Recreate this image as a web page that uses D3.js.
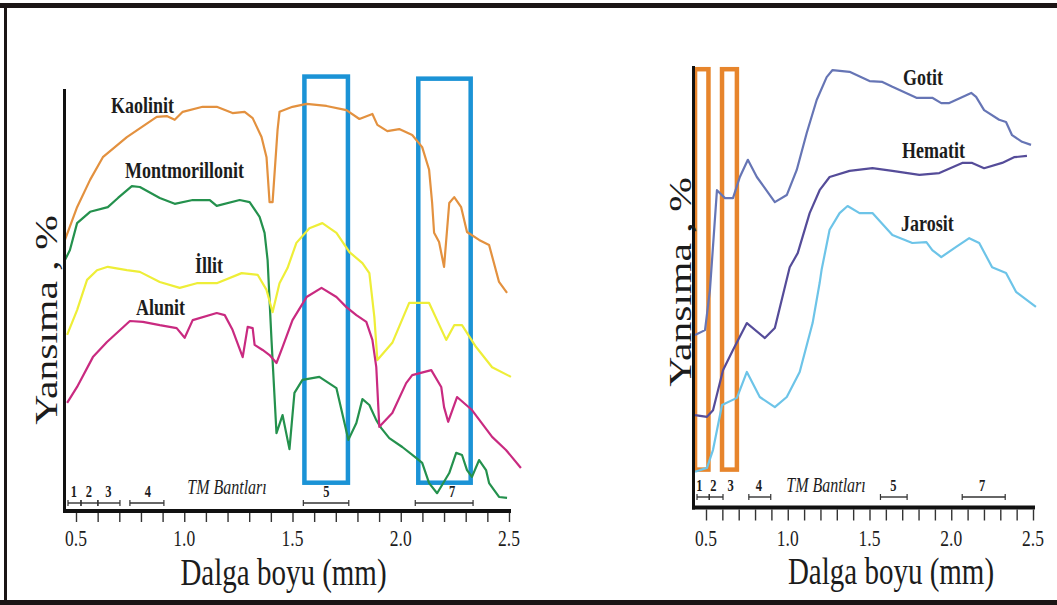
<!DOCTYPE html>
<html lang="tr">
<head>
<meta charset="UTF-8">
<title>Yansıma eğrileri</title>
<script src="https://cdnjs.cloudflare.com/ajax/libs/d3/7.8.5/d3.min.js"></script>
<style>
    html, body {
        margin: 0;
        background: #fff;
    }
    svg text {
        font-family: "Liberation Serif", "Times New Roman", serif;
        fill: #1c1c1c;
    }
</style>
</head>
<body>
<div id="chart"></div>
<script>
    // [dalga boyu (µm), yansıma (%)]
    var kaolinit = [[0.449,64.3],[0.505,72.1],[0.565,78.6],[0.624,84.0],[0.735,88.8],[0.873,93.6],[0.919,93.8],
        [0.956,92.9],[0.993,94.8],[1.085,96.0],[1.150,96.0],[1.223,94.5],[1.279,94.8],[1.316,93.3],[1.357,88.8],
        [1.380,84.0],[1.394,73.3],[1.408,73.3],[1.431,90.5],[1.440,94.8],[1.500,96.0],[1.565,96.7],[1.657,96.2],
        [1.749,95.2],[1.809,93.1],[1.869,94.3],[1.892,91.7],[1.938,90.2],[1.993,90.7],[2.053,89.3],[2.099,86.4],
        [2.131,81.0],[2.145,73.1],[2.154,66.0],[2.177,63.8],[2.200,57.9],[2.224,73.1],[2.247,74.5],[2.279,72.1],
        [2.306,66.2],[2.362,64.3],[2.408,63.1],[2.454,54.3],[2.491,51.7]];

    var montmorillonit = [[0.449,59.5],[0.472,61.9],[0.505,68.3],[0.565,71.0],[0.647,72.1],[0.694,74.3],[0.758,77.1],
        [0.795,76.9],[0.887,74.3],[0.956,72.9],[1.039,73.8],[1.118,73.8],[1.150,72.4],[1.256,73.8],[1.302,73.3],
        [1.348,69.8],[1.371,66.0],[1.385,59.5],[1.403,40.5],[1.426,18.3],[1.454,22.6],[1.486,14.5],[1.509,27.9],
        [1.546,31.0],[1.624,31.7],[1.703,29.0],[1.758,16.7],[1.795,20.7],[1.823,26.4],[1.855,25.0],[1.887,21.4],
        [1.910,19.5],[1.947,17.1],[2.007,15.0],[2.071,12.4],[2.099,11.2],[2.131,6.4],[2.168,4.0],[2.224,8.8],
        [2.256,13.6],[2.283,13.1],[2.306,9.5],[2.329,7.9],[2.362,11.9],[2.394,9.5],[2.408,6.4],[2.454,3.1],[2.491,2.9]];

    var illit = [[0.459,41.7],[0.505,47.6],[0.551,54.8],[0.597,57.1],[0.647,57.9],[0.735,57.1],[0.795,56.7],
        [0.887,54.3],[0.979,52.9],[1.058,54.0],[1.150,54.0],[1.265,56.4],[1.339,56.0],[1.380,52.4],[1.408,47.1],
        [1.440,54.0],[1.477,57.6],[1.518,63.6],[1.578,67.1],[1.638,68.3],[1.703,66.0],[1.763,61.4],[1.823,58.8],
        [1.855,56.4],[1.878,46.0],[1.892,35.7],[1.961,39.8],[2.039,49.3],[2.131,49.3],[2.210,40.5],[2.247,44.0],
        [2.283,44.0],[2.348,38.8],[2.422,34.0],[2.509,31.7]];

    var alunit = [[0.459,25.5],[0.505,29.3],[0.578,36.4],[0.643,40.0],[0.749,45.0],[0.809,44.8],[0.887,44.0],
        [0.965,43.3],[1.002,41.0],[1.039,45.2],[1.150,46.9],[1.187,46.4],[1.223,42.9],[1.270,36.4],[1.293,43.6],
        [1.316,43.3],[1.325,39.3],[1.362,38.1],[1.394,36.9],[1.426,35.0],[1.454,38.8],[1.500,45.2],[1.565,50.7],
        [1.634,52.9],[1.703,50.7],[1.749,48.3],[1.795,46.4],[1.841,44.8],[1.869,40.5],[1.887,34.0],[1.901,19.8],
        [1.961,23.1],[2.025,30.2],[2.053,32.1],[2.141,33.3],[2.187,29.3],[2.200,24.5],[2.219,21.0],[2.260,26.9],
        [2.329,23.8],[2.422,17.4],[2.486,14.3],[2.555,10.0]];

    var gotit = [[0.433,39.1],[0.494,40.2],[0.524,49.3],[0.567,72.0],[0.616,70.2],[0.665,70.2],[0.707,75.0],
        [0.756,78.9],[0.811,75.0],[0.921,69.3],[0.994,70.9],[1.055,76.6],[1.116,85.0],[1.177,92.5],[1.238,97.7],
        [1.274,99.3],[1.378,98.9],[1.500,96.8],[1.579,96.6],[1.640,95.5],[1.787,93.0],[1.884,93.0],[1.939,91.8],
        [1.988,91.8],[2.122,94.1],[2.152,93.2],[2.201,90.2],[2.293,88.0],[2.335,87.5],[2.372,84.5],[2.433,83.0],
        [2.488,82.3]];

    var hematit = [[0.433,20.9],[0.506,20.5],[0.543,22.0],[0.604,31.1],[0.665,35.7],[0.750,41.8],[0.860,38.4],
        [0.921,40.7],[1.012,54.5],[1.061,57.7],[1.134,66.8],[1.195,72.0],[1.256,75.0],[1.378,76.4],[1.518,77.0],
        [1.640,76.4],[1.805,75.5],[1.927,75.9],[2.067,78.2],[2.128,78.2],[2.201,77.0],[2.311,78.2],[2.384,79.5],
        [2.463,79.8]];

    var jarosit = [[0.433,8.0],[0.506,8.9],[0.543,13.0],[0.598,23.2],[0.689,24.8],[0.750,30.7],[0.829,25.0],
        [0.921,22.7],[0.994,25.0],[1.073,30.7],[1.152,41.8],[1.195,50.9],[1.207,53.9],[1.256,63.0],[1.317,66.8],
        [1.366,68.4],[1.439,66.8],[1.518,66.8],[1.640,61.8],[1.762,60.0],[1.848,60.2],[1.884,58.4],[1.939,56.8],
        [2.030,59.1],[2.110,61.1],[2.171,60.0],[2.250,54.5],[2.335,53.2],[2.396,48.9],[2.518,45.5]];

    var majorTicks = [0.5, 1.0, 1.5, 2.0, 2.5];
    var minorTicks = [0.5, 0.6, 0.7, 0.8, 0.9, 1.0, 1.1, 1.2, 1.3, 1.4, 1.5, 1.6, 1.7, 1.8, 1.9, 2.0,
        2.1, 2.2, 2.3, 2.4, 2.5];

    // TM bands: [label, from, to, label position]
    var leftBands = [['1', 0.463, 0.523, 0.49], ['2', 0.523, 0.601, 0.56], ['3', 0.601, 0.703, 0.65],
        ['4', 0.749, 0.906, 0.832], ['5', 1.55, 1.76, 1.657], ['7', 2.067, 2.334, 2.237]];
    var rightBands = [['1', 0.445, 0.52, 0.46], ['2', 0.52, 0.604, 0.545], ['3', null, null, 0.65],
        ['4', 0.762, 0.896, 0.823], ['5', 1.567, 1.73, 1.646], ['7', 2.067, 2.33, 2.189]];

    // highlighted windows: [from, to] in µm, [bottom, top] in %
    var leftWindows = [[1.555, 1.756, 6.5, 103.2], [2.081, 2.323, 6.5, 102.7]];
    var rightWindows = [[0.433, 0.515, 8.5, 99.5], [0.598, 0.689, 8.5, 99.5]];

    var leftSeries = [['Kaolinit', kaolinit, '#e3913f'], ['Montmorillonit', montmorillonit, '#24914d'],
        ['İllit', illit, '#eeee38'], ['Alunit', alunit, '#c92a80']];
    var rightSeries = [['Gotit', gotit, '#6675b5'], ['Hematit', hematit, '#554c99'],
        ['Jarosit', jarosit, '#6dc4e8']];

    var width = 1057;
    var height = 605;
    var stretch = 1.3;

    var svg = d3.select('#chart')
        .append('svg')
            .attr('width', width)
            .attr('height', height);

    // frame
    svg.append('rect').attr('x', 0).attr('y', 3).attr('width', width).attr('height', 5).attr('fill', '#1b1515');
    svg.append('rect').attr('x', 0).attr('y', 600).attr('width', width).attr('height', 5).attr('fill', '#1b1515');
    svg.append('rect').attr('x', 4).attr('y', 3).attr('width', 3).attr('height', 602).attr('fill', '#1b1515');

    function addText(g, x, y, str, size, anchor) {
        return g.append('text')
            .attr('transform', 'translate(' + x + ',' + y + ') scale(1,' + stretch + ')')
            .attr('font-size', size)
            .attr('text-anchor', anchor || 'start')
            .text(str);
    }

    function drawPanel(p) {
        var g = svg.append('g');

        var x = d3.scaleLinear().domain([0.5, 2.5]).range(p.xRange);
        var y = d3.scaleLinear().domain([0, 100]).range(p.yRange);

        var line = d3.line()
            .x(function(d){ return x(d[0]); })
            .y(function(d){ return y(d[1]); });

        // window boxes
        g.selectAll('.window')
            .data(p.windows)
            .enter()
            .append('rect')
            .attr('class', 'window')
            .attr('x', function(d){ return x(d[0]); })
            .attr('y', function(d){ return y(d[3]); })
            .attr('width', function(d){ return x(d[1]) - x(d[0]); })
            .attr('height', function(d){ return y(d[2]) - y(d[3]); })
            .attr('fill', 'none')
            .attr('stroke', p.windowColor)
            .attr('stroke-width', 4.5);

        g.selectAll('.curve')
            .data(p.series)
            .enter()
            .append('path')
            .attr('class', 'curve')
            .attr('fill', 'none')
            .attr('stroke', function(d){ return d[2]; })
            .attr('stroke-width', 2.2)
            .attr('stroke-linejoin', 'round')
            .attr('d', function(d){ return line(d[1]); });

        // axes
        var axis = d3.axisBottom(x)
            .tickValues(minorTicks)
            .tickFormat('')
            .tickSizeOuter(0)
            .tickSize(p.tickLen);

        var ax = g.append('g')
            .attr('transform', 'translate(0,' + (p.axisY + 2) + ')')
            .call(axis);
        ax.select('.domain').remove();
        ax.selectAll('.tick line').attr('stroke', '#333').attr('stroke-width', 1.4);

        g.append('line')
            .attr('x1', p.axisX - 1.5).attr('x2', x(2.5) + 2)
            .attr('y1', p.axisY).attr('y2', p.axisY)
            .attr('stroke', '#111').attr('stroke-width', 4);
        g.append('line')
            .attr('x1', p.axisX).attr('x2', p.axisX)
            .attr('y1', p.axisTop).attr('y2', p.axisY + 2)
            .attr('stroke', '#111').attr('stroke-width', 3);

        majorTicks.forEach(function(t){
            addText(g, x(t), p.labelY, d3.format('.1f')(t), 17.5, 'middle');
        });

        addText(g, p.titleX, p.titleY, 'Dalga boyu (mm)', 29, 'middle');

        g.append('text')
            .attr('transform', 'translate(' + p.yTitleX + ',' + p.yTitleY + ') rotate(-90) scale(' + stretch + ',1)')
            .attr('font-size', 32)
            .attr('text-anchor', 'middle')
            .text('Yansıma , %');

        // TM bands
        p.bands.forEach(function(b){
            if (b[1] !== null) {
                var bx0 = x(b[1]), bx1 = x(b[2]);
                g.append('line').attr('x1', bx0).attr('x2', bx1).attr('y1', p.bandY).attr('y2', p.bandY)
                    .attr('stroke', '#333').attr('stroke-width', 1.4);
                [bx0, bx1].forEach(function(bx){
                    g.append('line').attr('x1', bx).attr('x2', bx).attr('y1', p.bandY - 3).attr('y2', p.bandY + 3)
                        .attr('stroke', '#333').attr('stroke-width', 1.2);
                });
            }
            addText(g, x(b[3]), p.bandY - 6, b[0], 12.5, 'middle').attr('font-weight', 'bold');
        });

        addText(g, p.tmX, p.tmY, 'TM Bantları', 16, 'middle').attr('font-style', 'italic');

        p.series.forEach(function(s, i){
            addText(g, p.names[i][0], p.names[i][1], s[0], 18).attr('font-weight', 'bold');
        });
    }

    drawPanel({
        xRange: [76, 509], yRange: [510, 90],
        axisX: 64.5, axisY: 511, axisTop: 89, tickLen: 9,
        labelY: 546, titleX: 283.5, titleY: 585, yTitleX: 57, yTitleY: 320,
        bands: leftBands, bandY: 503, tmX: 227, tmY: 494,
        windows: leftWindows, windowColor: '#1b93d6',
        series: leftSeries,
        names: [[111, 113], [125, 178], [195, 273], [136, 315]]
    });

    drawPanel({
        xRange: [706, 1033], yRange: [507, 67],
        axisX: 693.5, axisY: 507.5, axisTop: 66, tickLen: 11,
        labelY: 546, titleX: 891, titleY: 584, yTitleX: 691, yTitleY: 282,
        bands: rightBands, bandY: 497, tmX: 826, tmY: 492,
        windows: rightWindows, windowColor: '#e7852c',
        series: rightSeries,
        names: [[903, 85], [902, 158], [901, 231]]
    });
</script>
</body>
</html>
